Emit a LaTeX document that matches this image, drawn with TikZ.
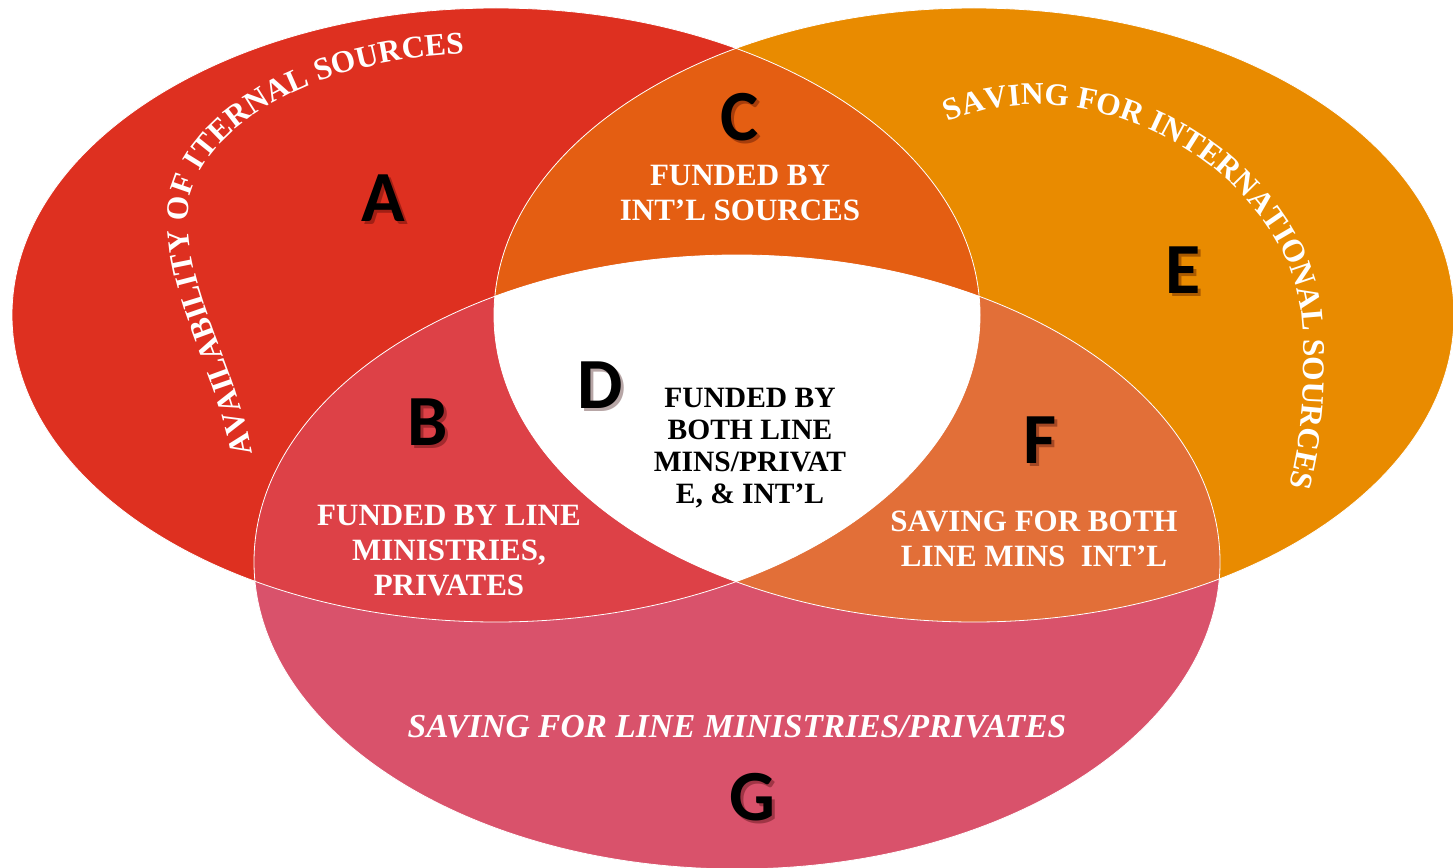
\documentclass[tikz,border=0pt]{standalone}
\usepackage{fontspec}
\setmainfont{Liberation Serif}
\newfontfamily\letterfont{Carlito}
\usetikzlibrary{decorations.text}

\definecolor{colA}{HTML}{DE3020}
\definecolor{colE}{HTML}{E98B00}
\definecolor{colG}{HTML}{D9526B}
\definecolor{colC}{HTML}{E45E12}
\definecolor{colB}{HTML}{DD4147}
\definecolor{colF}{HTML}{E26F38}

\newcommand{\curvefont}{\bfseries\fontsize{31.5}{34}\selectfont}

\begin{document}
\begin{tikzpicture}[x = 1pt, y = -1pt,
		region letter/.style={font=\letterfont\bfseries\fontsize{72}{80}\selectfont, inner sep=0pt},
		letter shadow/.style={region letter, text=black!80!red, opacity=0.35},
		region text/.style={font=\bfseries\fontsize{31}{35}\selectfont, text=white, align=center, inner sep=0pt},
		outline/.style={draw=white, line width=0.8pt},
		]
	
		\useasboundingbox (0, 0) rectangle (1453, 867);
	
		% Centres of the three sets
		\coordinate (redCenter) at (496, 315);
		\coordinate (orangeCenter) at (974, 315);
		\coordinate (pinkCenter) at (737, 562);
		
		% The three sets
		\fill[colA] (redCenter) ellipse [x radius = 484, y radius = 307];
		\fill[colE] (orangeCenter) ellipse [x radius = 480, y radius = 307];
		\fill[colG] (pinkCenter) ellipse [x radius = 483, y radius = 307];
		
		% Overlaps
		\begin{scope}
			\clip (redCenter) ellipse [x radius = 484, y radius = 307];
			\fill[colC] (orangeCenter) ellipse [x radius = 480, y radius = 307];
			\fill[colB] (pinkCenter) ellipse [x radius = 483, y radius = 307];
		\end{scope}
		\begin{scope}
			\clip (orangeCenter) ellipse [x radius = 480, y radius = 307];
			\fill[colF] (pinkCenter) ellipse [x radius = 483, y radius = 307];
		\end{scope}
		\begin{scope}
			\clip (redCenter) ellipse [x radius = 484, y radius = 307];
			\clip (orangeCenter) ellipse [x radius = 480, y radius = 307];
			\fill[white] (pinkCenter) ellipse [x radius = 483, y radius = 307];
		\end{scope}
		
		% Thin white borders
		\draw[outline] (redCenter) ellipse [x radius = 484, y radius = 307];
		\draw[outline] (orangeCenter) ellipse [x radius = 480, y radius = 307];
		\draw[outline] (pinkCenter) ellipse [x radius = 483, y radius = 307];
		
		% Curved titles
		\path[decorate, decoration={text along path, text align=left, text color=white,
				text={|\curvefont|AVAILABILITY OF ITERNAL SOURCES}}]
			(252, 454) .. controls (236, 360) and (188, 300) .. (188, 215)
			.. controls (188, 140) and (300, 58) .. (470, 54) -- (560, 54);
		\path[decorate, decoration={text along path, text align=left, text color=white,
				text={|\curvefont|SAVING FOR INTERNATIONAL SOURCES}}]
			(948, 122) .. controls (1100, 58) and (1298, 180) .. (1303, 330)
			.. controls (1306, 400) and (1300, 445) .. (1288, 490) -- (1270, 560);
		
		% Letter shadows
		\node[letter shadow] (shadowA) at (386, 201) {A};
		\node[letter shadow] (shadowB) at (431, 425) {B};
		\node[letter shadow] (shadowC) at (743, 120) {C};
		\node[letter shadow] (shadowD) at (603, 388) {D};
		\node[letter shadow] (shadowE) at (1186, 273) {E};
		\node[letter shadow] (shadowF) at (1043, 443) {F};
		\node[letter shadow] (shadowG) at (755, 800) {G};
		
		% Letters
		\node[region letter] (letterA) at (383, 198) {A};
		\node[region letter] (letterB) at (428, 422) {B};
		\node[region letter] (letterC) at (740, 117) {C};
		\node[region letter] (letterD) at (600, 385) {D};
		\node[region letter] (letterE) at (1183, 270) {E};
		\node[region letter] (letterF) at (1040, 440) {F};
		\node[region letter] (letterG) at (752, 797) {G};
		
		% Region texts
		\node[region text] (textC) at (740, 193) {FUNDED BY\\INT'L SOURCES};
		\node[region text] (textB) at (449, 551) {FUNDED BY LINE\\MINISTRIES,\\PRIVATES};
		\node[region text] (textF) at (1034, 539) {SAVING FOR BOTH\\LINE MINS \ INT'L};
		\node[region text, text=black, font=\bfseries\fontsize{29.5}{32}\selectfont] (textD) at (750, 448)
			{FUNDED BY\\BOTH LINE\\MINS/PRIVAT\\E, \& INT'L};
		\node[region text, font=\bfseries\itshape\fontsize{33.5}{35}\selectfont] (textG) at (737, 727)
			{SAVING FOR LINE MINISTRIES/PRIVATES};
		
	\end{tikzpicture}
\end{document}
